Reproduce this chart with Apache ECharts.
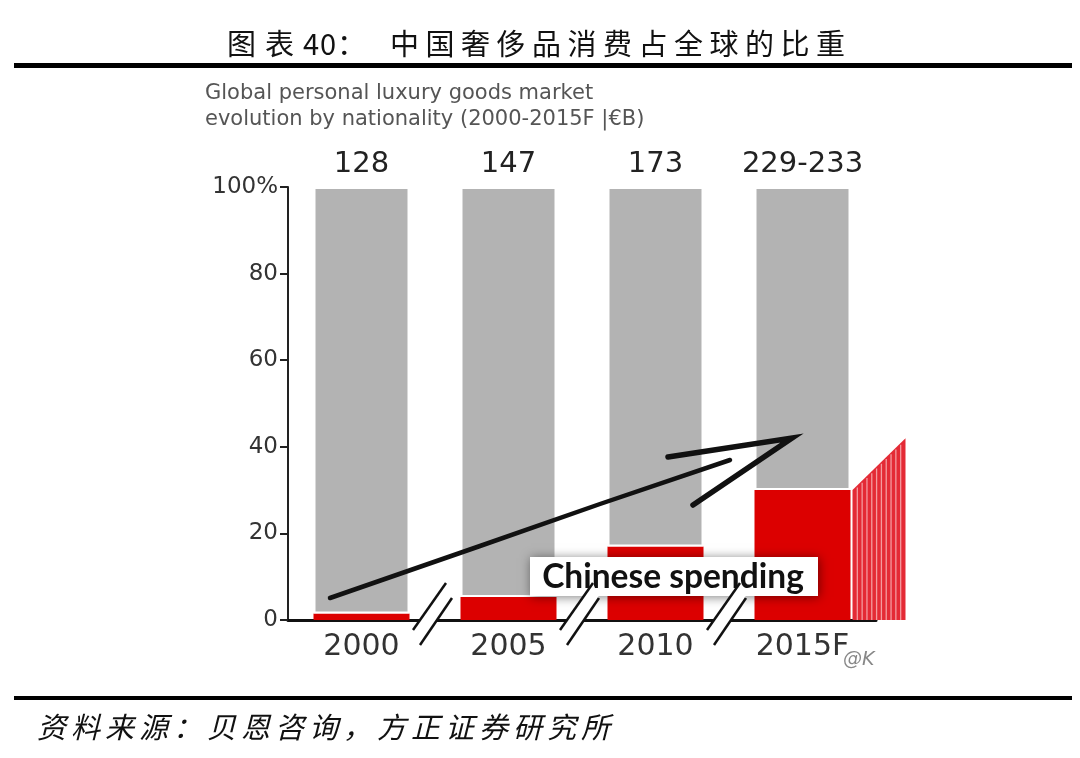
<!DOCTYPE html>
<html><head><meta charset="utf-8">
<script src="https://cdn.jsdelivr.net/npm/echarts@6/dist/echarts.min.js"></script>
<style>html,body{margin:0;padding:0;background:#fff}#c{width:1080px;height:758px}</style>
</head><body><div id="c"></div>
<script>
const categories = ['2000', '2005', '2010', '2015F'];
const chineseShare = [1.5, 5.3, 17, 30];
const otherShare = [98.5, 94.7, 83, 70];
const totals = ['128', '147', '173', '229-233'];
const projectedTopShare = 42;
const yTickLabels = {0: '0', 20: '20', 40: '40', 60: '60', 80: '80', 100: '100%'};

const chart = echarts.init(document.getElementById('c'), null, {renderer: 'canvas'});
const RED = '#dc0000', GREY = '#b3b3b3';
const option = {
  animation: false,
  backgroundColor: '#fff',
  grid: {left: 288, right: 204, top: 187, bottom: 138, containLabel: false},
  xAxis: {
    type: 'category', data: categories,
    axisLine: {lineStyle: {color: '#111', width: 3}},
    axisTick: {show: false},
    axisLabel: {color: '#333', fontSize: 30, fontFamily: 'DejaVu Sans', margin: 12}
  },
  yAxis: {
    type: 'value', min: 0, max: 100, interval: 20,
    axisLine: {show: true, lineStyle: {color: '#222', width: 2}},
    axisTick: {show: true, length: 8, lineStyle: {color: '#222', width: 2}},
    splitLine: {show: false},
    axisLabel: {color: '#333', fontSize: 23, fontFamily: 'DejaVu Sans', margin: 10,
      formatter: v => yTickLabels[v]}
  },
  series: [
    {type: 'bar', stack: 's', barWidth: 96, data: chineseShare,
      itemStyle: {color: RED}},
    {type: 'bar', stack: 's', barWidth: 96, data: otherShare,
      itemStyle: {color: GREY, borderColor: '#fff', borderWidth: 2},
      label: {show: true, position: 'top', distance: 8, color: '#222', fontSize: 29,
        fontFamily: 'DejaVu Sans', formatter: p => totals[p.dataIndex]}}
  ]
};
chart.setOption(option);

const g = [];
function placeChars(str, x0, yc, advances, font, fill) {
  let x = x0;
  for (let i = 0; i < str.length; i++) {
    g.push({type: 'text', x: x, y: yc, style: {text: str[i], fill: fill, font: font, textVerticalAlign: 'middle'}});
    x += advances(str[i]);
  }
}
// title
const tFont = '29px "Noto Sans CJK SC"';
placeChars('图表40：', 227, 44, ch => (/[0-9]/.test(ch) ? 17 : 38), tFont, '#111');
placeChars('中国奢侈品消费占全球的比重', 390, 44, ch => 35.5, tFont, '#111');
g.push({type: 'rect', shape: {x: 14, y: 63, width: 1058, height: 5}, style: {fill: '#000'}});
g.push({type: 'rect', shape: {x: 14, y: 696, width: 1058, height: 4}, style: {fill: '#000'}});
// footer
placeChars('资料来源：贝恩咨询，方正证券研究所', 37, 727, ch => 34, 'italic 29px "Noto Sans CJK SC"', '#111');
// subtitle
g.push({type: 'text', x: 205, y: 81, style: {text: 'Global personal luxury goods market\nevolution by nationality (2000-2015F |€B)',
  fill: '#555', font: '21px "DejaVu Sans"', lineHeight: 26}});

// break marks between categories
const axisY = chart.convertToPixel({yAxisIndex: 0}, 0);
for (let i = 0; i < categories.length - 1; i++) {
  const c = (chart.convertToPixel({xAxisIndex: 0}, categories[i]) + chart.convertToPixel({xAxisIndex: 0}, categories[i + 1])) / 2;
  g.push({type: 'polygon', shape: {points: [[c - 22, axisY + 10], [c - 15, axisY + 25], [c + 17, axisY - 22], [c + 11, axisY - 37]]},
    style: {fill: '#fff'}, z: 50});
  g.push({type: 'line', shape: {x1: c - 22, y1: axisY + 10, x2: c + 11, y2: axisY - 37}, style: {stroke: '#111', lineWidth: 2.5}, z: 51});
  g.push({type: 'line', shape: {x1: c - 15, y1: axisY + 25, x2: c + 17, y2: axisY - 22}, style: {stroke: '#111', lineWidth: 2.5}, z: 51});
}

// projected striped wedge to right of last bar
const lastX = chart.convertToPixel({xAxisIndex: 0}, categories[3]);
const wx0 = lastX + 50, wx1 = lastX + 103;
const wyL = chart.convertToPixel({yAxisIndex: 0}, chineseShare[3]);
const wyR = chart.convertToPixel({yAxisIndex: 0}, projectedTopShare);
g.push({type: 'polygon', shape: {points: [[wx0, axisY], [wx0, wyL], [wx1, wyR], [wx1, axisY]]}, style: {fill: '#e42a35'}, z: 20});
const nStripes = 11;
for (let k = 1; k < nStripes; k++) {
  const x = wx0 + (wx1 - wx0) * k / nStripes;
  const yt = wyL + (wyR - wyL) * (x - wx0) / (wx1 - wx0);
  g.push({type: 'line', shape: {x1: x, y1: yt + 2, x2: x, y2: axisY}, style: {stroke: '#f49a9f', lineWidth: 1.3}, z: 21});
}

// arrow
g.push({type: 'polyline', shape: {points: [[330, 598], [480, 546], [600, 504], [730, 460]]},
  style: {stroke: '#111', lineWidth: 4.5, lineCap: 'round'}, z: 30});
g.push({type: 'polyline', shape: {points: [[668, 457], [792, 438], [693, 505]]},
  style: {stroke: '#111', lineWidth: 5.5, lineJoin: 'miter', lineCap: 'round'}, z: 30});

// label box
g.push({type: 'rect', shape: {x: 530, y: 557, width: 288, height: 39},
  style: {fill: '#fff', shadowBlur: 10, shadowColor: 'rgba(0,0,0,0.5)', shadowOffsetX: 1, shadowOffsetY: 1}, z: 40});
g.push({type: 'text', x: 673, y: 577, style: {text: 'Chinese spending', fill: '#111', font: 'bold 33.5px Lato',
  textAlign: 'center', textVerticalAlign: 'middle'}, z: 41});
// mark
g.push({type: 'text', x: 843, y: 651, style: {text: '@K', fill: '#888', font: 'italic 19px "DejaVu Sans"'}, z: 41});

chart.setOption({graphic: g});
</script></body></html>
